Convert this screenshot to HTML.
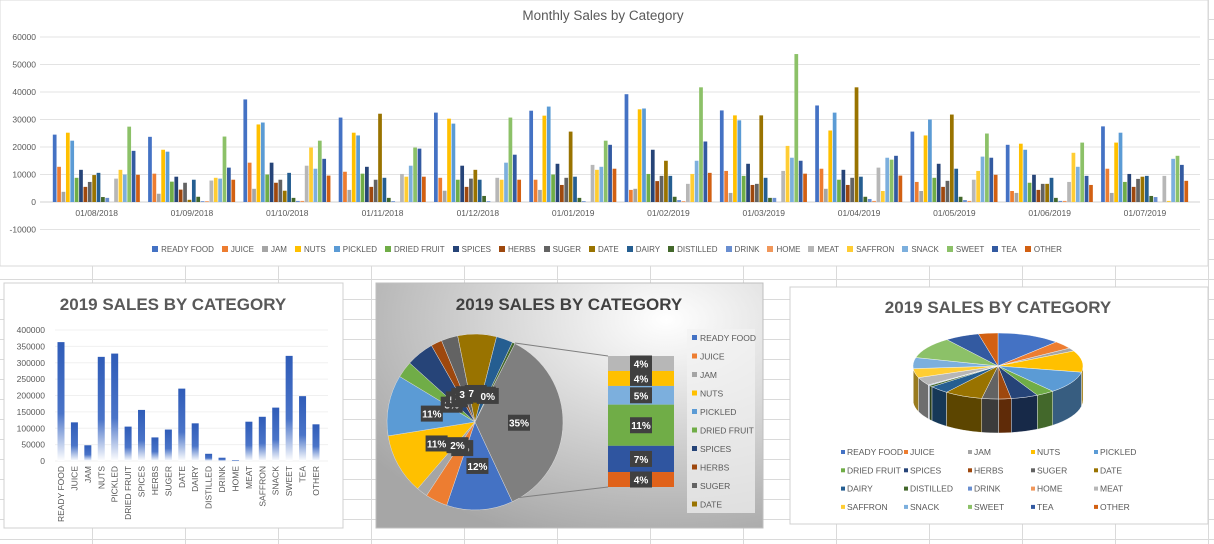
<!DOCTYPE html>
<html><head><meta charset="utf-8"><style>
html,body{margin:0;padding:0;}
body{width:1214px;height:544px;overflow:hidden;position:relative;font-family:"Liberation Sans",sans-serif;
background-color:#fff;
background-image:repeating-linear-gradient(to bottom,transparent 0,transparent 19px,#dadada 19px,#dadada 20px),
repeating-linear-gradient(to right,transparent 0,transparent 92px,#dadada 92px,#dadada 93px);}
svg{position:absolute;left:0;top:0;}
.leg{position:absolute;display:flex;justify-content:center;gap:8px;font-size:8px;color:#595959;}
.leg span i{display:inline-block;width:6px;height:6px;margin-right:3px;vertical-align:0px;}
</style></head><body>
<svg id="s" width="1214" height="544"></svg>
<div class="leg" id="topLeg" style="left:0;top:245px;width:1214px;"></div>
<script>
const cats=["READY FOOD","JUICE","JAM","NUTS","PICKLED","DRIED FRUIT","SPICES","HERBS","SUGER","DATE","DAIRY","DISTILLED","DRINK","HOME","MEAT","SAFFRON","SNACK","SWEET","TEA","OTHER"];
const colors=["#4472c4","#ed7d31","#a5a5a5","#ffc000","#5b9bd5","#70ad47","#264478","#9e480e","#636363","#997300","#255e91","#43682b","#698ed0","#f1975a","#b7b7b7","#ffcd33","#7cafdd","#8cc168","#335aa1","#d26012"];
const months=["01/08/2018","01/09/2018","01/10/2018","01/11/2018","01/12/2018","01/01/2019","01/02/2019","01/03/2019","01/04/2019","01/05/2019","01/06/2019","01/07/2019"];
const yTicks=[-10000,0,10000,20000,30000,40000,50000,60000];
const aug=[24500,12800,3700,25200,22300,8800,11700,5500,7300,9800,10600,1800,1500,0,8500,11700,10000,27400,18600,9900];
const sep=[23700,10300,3000,19000,18300,7400,9200,4500,7000,800,8100,1900,300,300,7800,8800,8500,23800,12500,8100];
const oct=[37300,14300,4800,28200,28900,10000,14300,7000,8100,4100,10600,1500,400,400,13200,19800,12100,22300,15700,9600];
const nov=[30700,11000,4400,25200,24200,10300,12800,5500,8100,32100,8800,1500,300,0,10200,9200,13200,19800,19400,9200];
const dec=[32500,8800,4100,30300,28500,8100,13200,5500,8500,11700,8100,2200,300,0,8800,8100,14300,30700,17200,8100];
const jan=[33200,8100,4400,31400,34700,10000,13900,6200,8800,25600,9200,1500,300,0,13500,11700,12800,22300,20800,12100];
const feb=[39200,4400,4800,33700,34000,10200,19000,7600,9500,15000,9500,1900,700,300,6600,10200,15000,41700,22000,10600];
const mar=[33300,11300,3300,31500,29700,9500,13900,6200,6600,31500,8800,1500,1500,0,11300,20400,16100,53800,15000,10300];
const apr=[35100,12100,4800,26000,32500,8100,11700,6200,8800,41700,9200,1900,1100,400,12500,4000,16100,15400,16800,9600];
const may=[25600,7300,4000,24200,30000,8800,13900,5500,7700,31800,12100,1900,700,400,8100,11300,16500,24900,16100,9900];
const jun=[20800,4000,3300,21200,19000,7000,9900,4400,6600,6600,8800,1500,400,400,7300,17900,12800,21600,9500,6200];
const jul=[27500,12100,3300,21600,25200,7300,10200,5500,8400,9200,9500,2200,1800,0,9500,400,15700,16800,13500,7700];
const monthly=[aug,sep,oct,nov,dec,jan,feb,mar,apr,may,jun,jul];
const totals2019=[363000,118000,48000,318000,328000,105000,156000,72000,96000,221000,115000,22000,10000,2000,120000,135000,163000,321000,198000,112000];
const barTicks=[0,50000,100000,150000,200000,250000,300000,350000,400000];
const pieCats=["READY FOOD","JUICE","JAM","NUTS","PICKLED","DRIED FRUIT","SPICES","HERBS","SUGER","DATE","DAIRY","DISTILLED","Other"];
const pieVals=[12,4,2,11,11,3,5,2,3,7,3,0.5,35];
const pieLabels=["12%","2%","2%","11%","11%","3%","5%","2%","3%","7%","3%","0%","35%"];
const stackCats=["MEAT","SAFFRON","SNACK","SWEET","TEA","OTHER"];
const stackVals=[4,4,5,11,7,4];
const stackColors=["#b7b7b7","#ffc000","#7cafdd","#70ad47","#2f55a0","#e0621a"];

const S=document.getElementById('s');const NS="http://www.w3.org/2000/svg";
function el(tag,attrs,parent,name,inter){const e=document.createElementNS(NS,tag);for(const k in attrs)e.setAttribute(k,attrs[k]);


(parent||S).appendChild(e);return e;}
function txt(x,y,t,attrs,name,parent){const e=el('text',Object.assign({x:x,y:y},attrs),parent,name,false);e.textContent=t;return e;}

el('rect',{x:0,y:0,width:1208,height:266,fill:'#fff',stroke:'#d9d9d9'},S,'monthly-chart-area',false);
txt(603,20,"Monthly Sales by Category",{'text-anchor':'middle','font-size':13.5,fill:'#595959'},'monthly-chart-title');
const pL=49,gW=95.3;const yT=v=>202-v*(165/60000);
yTicks.forEach(t=>{el('line',{x1:40,x2:1200,y1:yT(t),y2:yT(t),stroke:t===0?'#d0d0d0':'#e3e3e3'},S,'gridline',false);
txt(36,yT(t)+3,String(t),{'text-anchor':'end','font-size':8.5,fill:'#595959'},'y-tick-label');});
const bw=gW*0.92/20;
monthly.forEach((arr,m)=>{const g0=pL+m*gW+gW*0.04;
arr.forEach((v,i)=>{el('rect',{x:g0+i*bw,y:yT(Math.max(v,0)),width:bw*0.85,height:Math.abs(yT(0)-yT(v)),fill:colors[i]},S,'bar-'+cats[i].toLowerCase().replace(' ','-'),false);});
txt(pL+m*gW+gW/2,216,months[m],{'text-anchor':'middle','font-size':8.5,fill:'#595959'},'x-tick-label');});
const tl=document.getElementById('topLeg');
cats.forEach((c,i)=>{const sp=document.createElement('span');sp.innerHTML='<i style="background:'+colors[i]+'"></i>'+c;


tl.appendChild(sp);});

el('rect',{x:4,y:283,width:339,height:245,fill:'#fff',stroke:'#d0d0d0'},S,'bar-chart-panel',false);
txt(173,310,"2019 SALES BY CATEGORY",{'text-anchor':'middle','font-size':17,'font-weight':'bold',fill:'#595959'},'bar-chart-title');
const defs=el('defs',{},S,'defs',false);
const lg=el('linearGradient',{id:'bg',x1:0,y1:0,x2:0,y2:1},defs,'bar-gradient',false);
el('stop',{offset:'0','stop-color':'#2f5cb8'},lg,'stop',false);el('stop',{offset:'0.6','stop-color':'#4a74c8'},lg,'stop',false);el('stop',{offset:'1','stop-color':'#ffffff'},lg,'stop',false);
const bY=v=>461-v*(131/400000);
barTicks.forEach(t=>{el('line',{x1:55,x2:328,y1:bY(t),y2:bY(t),stroke:'#f0f0f0'},S,'gridline',false);
txt(45,bY(t)+3,String(t),{'text-anchor':'end','font-size':8.5,fill:'#595959'},'y-tick-label');});
totals2019.forEach((v,i)=>{const x=61+i*13.42;
el('rect',{x:x-3.5,y:bY(v),width:7,height:bY(0)-bY(v),fill:'url(#bg)'},S,'bar-2019-'+cats[i].toLowerCase().replace(' ','-'),false);
txt(0,0,cats[i],{'font-size':8.5,fill:'#595959','text-anchor':'end',transform:'translate('+(x+3)+',466) rotate(-90)'},'x-tick-label');});

const rg=el('radialGradient',{id:'pg',cx:'0.75',cy:'0.15',r:'0.95'},defs,'pie-bg-gradient',false);
el('stop',{offset:'0','stop-color':'#ffffff'},rg,'stop',false);el('stop',{offset:'1','stop-color':'#a6a6a6'},rg,'stop',false);
el('rect',{x:376,y:283,width:387,height:245,fill:'url(#pg)',stroke:'#bfbfbf'},S,'pie-of-pie-panel',false);
txt(569,310,"2019 SALES BY CATEGORY",{'text-anchor':'middle','font-size':17,'font-weight':'bold',fill:'#404040'},'pie-chart-title');
const pcx=475,pcy=422,pr=88;const ptot=pieVals.reduce((a,b)=>a+b,0);
const pieColors=colors.slice(0,12).concat(['#7f7f7f']);
let a0=27/360*2*Math.PI - (ptot-35)/ptot*2*Math.PI;
function pp(a,r){return [pcx+r*Math.sin(a),pcy-r*Math.cos(a)];}
const labs=[];
pieVals.forEach((v,i)=>{const da=v/ptot*2*Math.PI;const p1=pp(a0,pr),p2=pp(a0+da,pr);
el('path',{d:`M${pcx},${pcy}L${p1[0]},${p1[1]}A${pr},${pr} 0 ${da>Math.PI?1:0} 1 ${p2[0]},${p2[1]}Z`,fill:pieColors[i],stroke:'#ddd','stroke-width':0.5},S,'slice-'+pieCats[i].toLowerCase().replace(' ','-'),false);
labs.push([pp(a0+da/2,v>=10?pr*0.5:pr*0.33),pieLabels[i]]);a0+=da;});
labs.forEach(l=>{el('rect',{x:l[0][0]-11,y:l[0][1]-8,width:22,height:16,fill:'#404040'},S,'data-label-box',false);
txt(l[0][0],l[0][1]+4,l[1],{'text-anchor':'middle','font-size':10,'font-weight':'bold',fill:'#fff'},'data-label');});
el('line',{x1:515,y1:343,x2:608,y2:356,stroke:'#7f7f7f'},S,'connector-line',false);
el('line',{x1:515,y1:498,x2:608,y2:487,stroke:'#7f7f7f'},S,'connector-line',false);
const sT=stackVals.reduce((a,b)=>a+b,0);let sy=356;
stackVals.forEach((v,i)=>{const h=v/sT*131;el('rect',{x:608,y:sy,width:66,height:h,fill:stackColors[i]},S,'stack-'+stackCats[i].toLowerCase(),false);
el('rect',{x:630,y:sy+h/2-8,width:22,height:16,fill:'#404040'},S,'data-label-box',false);
txt(641,sy+h/2+4,v+'%',{'text-anchor':'middle','font-size':10,'font-weight':'bold',fill:'#fff'},'data-label');sy+=h;});
el('rect',{x:687,y:329,width:68,height:184,fill:'#f2f2f2',opacity:0.7},S,'pie-legend',false);
pieCats.slice(0,10).forEach((c,i)=>{el('rect',{x:692,y:335+i*18.5,width:5,height:5,fill:pieColors[i]},S,'legend-swatch',false);
txt(700,341+i*18.5,c,{'font-size':8.5,fill:'#595959'},'legend-entry');});

el('rect',{x:790,y:287,width:418,height:237,fill:'#fff',stroke:'#d0d0d0'},S,'pie-3d-panel',false);
txt(998,313,"2019 SALES BY CATEGORY",{'text-anchor':'middle','font-size':17,'font-weight':'bold',fill:'#595959'},'pie-3d-title');
const cx=998,cy=366,rx=85,ry=33,dep=34;const tot=totals2019.reduce((a,b)=>a+b,0);
function q(a,dy){return [cx+rx*Math.sin(a),cy-ry*Math.cos(a)+(dy||0)];}
function dark(c){const n=parseInt(c.slice(1),16);const f=x=>Math.round(x*0.6);return `rgb(${f(n>>16)},${f((n>>8)&255)},${f(n&255)})`;}
let b0=0;const arcs=[];
totals2019.forEach((v,i)=>{const da=v/tot*2*Math.PI;arcs.push([b0,b0+da,i]);b0+=da;});
arcs.forEach(([s,e,i])=>{const lo=Math.max(s,Math.PI/2),hi=Math.min(e,1.5*Math.PI);if(hi<=lo)return;
const p1=q(lo),p2=q(hi),p3=q(hi,dep),p4=q(lo,dep);
el('path',{d:`M${p1[0]},${p1[1]}A${rx},${ry} 0 0 1 ${p2[0]},${p2[1]}L${p3[0]},${p3[1]}A${rx},${ry} 0 0 0 ${p4[0]},${p4[1]}Z`,fill:dark(colors[i]),stroke:'#fff','stroke-width':0.4},S,'pie-3d-side-'+cats[i].toLowerCase().replace(' ','-'),false);});
arcs.forEach(([s,e,i])=>{const p1=q(s),p2=q(e);
el('path',{d:`M${cx},${cy}L${p1[0]},${p1[1]}A${rx},${ry} 0 ${e-s>Math.PI?1:0} 1 ${p2[0]},${p2[1]}Z`,fill:colors[i],stroke:'#fff','stroke-width':0.4},S,'pie-3d-slice-'+cats[i].toLowerCase().replace(' ','-'),false);});
const lx=[845,908,972,1035,1098];
cats.forEach((c,i)=>{const x=lx[i%5],y=455+Math.floor(i/5)*18.3;
el('rect',{x:x-4,y:y-5,width:4,height:4,fill:colors[i]},S,'legend-swatch',false);
txt(x+2,y,c,{'font-size':8.5,fill:'#595959'},'legend-entry');});
</script>
</body></html>
